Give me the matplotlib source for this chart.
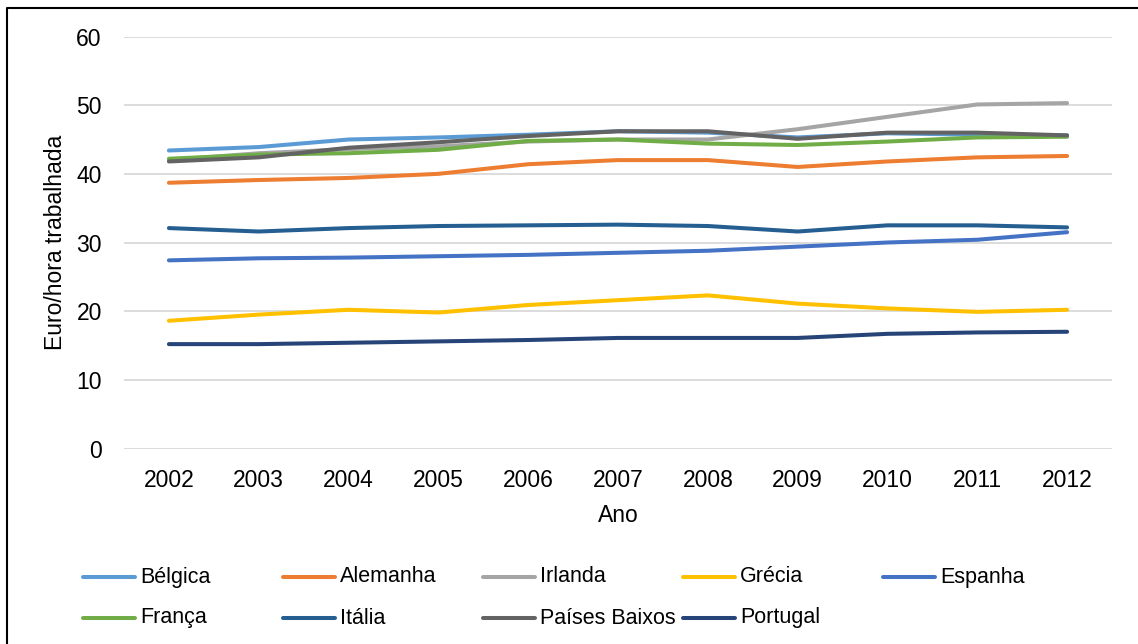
import matplotlib
matplotlib.use("Agg")
import matplotlib.pyplot as plt
from matplotlib.lines import Line2D

plt.rcParams['font.family'] = ['Liberation Sans', 'DejaVu Sans']

anos = [2002, 2003, 2004, 2005, 2006, 2007, 2008, 2009, 2010, 2011, 2012]

belgica = [43.4, 43.9, 45.0, 45.3, 45.7, 46.2, 46.0, 45.3, 45.9, 45.7, 45.6]
alemanha = [38.7, 39.1, 39.4, 40.0, 41.4, 42.0, 42.0, 41.0, 41.8, 42.4, 42.6]
irlanda = [42.0, 43.0, 43.6, 44.0, 44.7, 45.0, 45.0, 46.5, 48.3, 50.1, 50.3]
grecia = [18.6, 19.5, 20.2, 19.8, 20.9, 21.6, 22.3, 21.1, 20.4, 19.9, 20.2]
espanha = [27.4, 27.7, 27.8, 28.0, 28.2, 28.5, 28.8, 29.4, 30.0, 30.4, 31.5]
franca = [42.2, 42.8, 43.0, 43.5, 44.8, 45.0, 44.4, 44.2, 44.7, 45.3, 45.4]
italia = [32.1, 31.6, 32.1, 32.4, 32.5, 32.6, 32.4, 31.6, 32.5, 32.5, 32.2]
paises_baixos = [41.8, 42.4, 43.8, 44.6, 45.5, 46.2, 46.2, 45.1, 46.0, 46.0, 45.6]
portugal = [15.2, 15.2, 15.4, 15.6, 15.8, 16.1, 16.1, 16.1, 16.7, 16.9, 17.0]

paises = ["Bélgica", "Alemanha", "Irlanda", "Grécia", "Espanha",
          "França", "Itália", "Países Baixos", "Portugal"]
series = [belgica, alemanha, irlanda, grecia, espanha,
          franca, italia, paises_baixos, portugal]
cores = ["#5B9BD5", "#ED7D31", "#A5A5A5", "#FFC000", "#4472C4",
         "#70AD47", "#255E91", "#636363", "#264478"]

W, H = 1138, 644
fig = plt.figure(figsize=(W / 100, H / 100), dpi=100)
ax = fig.add_axes([124 / W, 1 - 448.5 / H, (1112 - 124) / W, (448.5 - 36.5) / H])

for nome, valores, cor in zip(paises, series, cores):
    ax.plot(anos, valores, color=cor, lw=2.9, solid_capstyle='round', label=nome)

ax.set_xlim(2001.5, 2012.5)
ax.set_ylim(0, 60)
ax.set_xticks(anos)
ax.set_yticks(range(0, 61, 10))
ax.grid(axis='y', color='#D9D9D9', lw=1.3)
ax.set_axisbelow(True)
for s in ax.spines.values():
    s.set_visible(False)
ax.tick_params(length=0, labelsize=16.5)
ax.tick_params(axis='x', pad=14.5)
ax.tick_params(axis='y', pad=16)
ax.set_xlabel("Ano", fontsize=16.5, labelpad=9)
ax.set_ylabel("Euro/hora trabalhada", fontsize=16.5, labelpad=7)

# legenda manual, colunas de largura fixa como no Excel
def px(x, y):
    return x / W, 1 - y / H

for i, (nome, cor) in enumerate(zip(paises, cores)):
    x0 = 83 + 200 * (i % 5)
    y0 = 577 + 41 * (i // 5)
    a, b = px(x0, y0)
    c, _ = px(x0 + 52, y0)
    fig.add_artist(Line2D([a, c], [b, b], transform=fig.transFigure,
                          color=cor, lw=2.9, solid_capstyle='round'))
    tx, ty = px(x0 + 57, y0)
    fig.text(tx, ty, nome, fontsize=15.5, va='center', ha='left')

# moldura
x1, y1 = px(7, 8)
fig.add_artist(Line2D([x1, x1, 1.01], [-0.01, y1, y1], transform=fig.transFigure,
                      color='black', lw=1.5))

fig.savefig("out.png", dpi=100)
